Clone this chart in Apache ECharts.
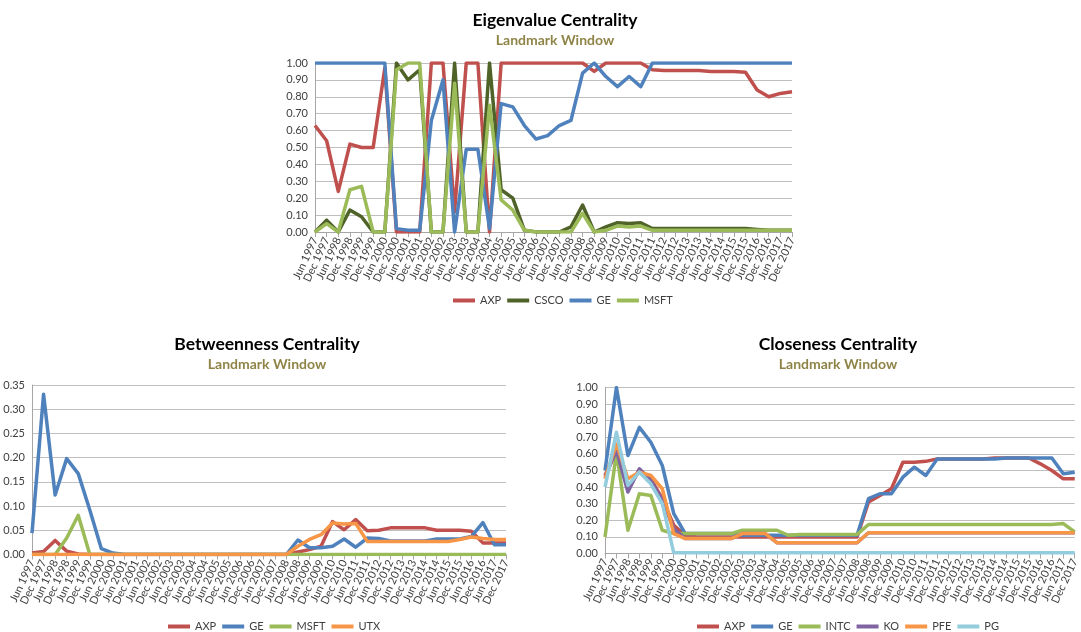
<!DOCTYPE html>
<html>
<head>
<meta charset="utf-8">
<script src="https://cdn.jsdelivr.net/npm/echarts@6/dist/echarts.min.js"></script>
<style>
  html, body { margin: 0; padding: 0; background: #ffffff; }
  #chart { width: 1081px; height: 632px; }
</style>
</head>
<body>
<div id="chart"></div>
<script>
// Half-year observation dates, Jun 1997 .. Dec 2017
const periods = [
  'Jun 1997','Dec 1997','Jun 1998','Dec 1998','Jun 1999','Dec 1999','Jun 2000','Dec 2000',
  'Jun 2001','Dec 2001','Jun 2002','Dec 2002','Jun 2003','Dec 2003','Jun 2004','Dec 2004',
  'Jun 2005','Dec 2005','Jun 2006','Dec 2006','Jun 2007','Dec 2007','Jun 2008','Dec 2008',
  'Jun 2009','Dec 2009','Jun 2010','Dec 2010','Jun 2011','Dec 2011','Jun 2012','Dec 2012',
  'Jun 2013','Dec 2013','Jun 2014','Dec 2014','Jun 2015','Dec 2015','Jun 2016','Dec 2016',
  'Jun 2017','Dec 2017'
];

// Eigenvalue centrality
const eigAXP  = [0.63,0.54,0.24,0.52,0.50,0.50,0.97,0.00,0.00,0.00,1.00,1.00,0.12,1.00,1.00,0.00,
                 1.00,1.00,1.00,1.00,1.00,1.00,1.00,1.00,0.95,1.00,1.00,1.00,1.00,0.96,0.955,0.955,
                 0.955,0.955,0.95,0.95,0.95,0.945,0.84,0.80,0.82,0.83];
const eigCSCO = [0.00,0.07,0.00,0.13,0.09,0.00,0.00,1.00,0.90,0.96,0.00,0.00,1.00,0.00,0.00,1.00,
                 0.25,0.20,0.01,0.00,0.00,0.00,0.03,0.16,0.00,0.03,0.055,0.05,0.055,0.02,0.02,0.02,
                 0.02,0.02,0.02,0.02,0.02,0.02,0.015,0.01,0.01,0.01];
const eigGE   = [1.00,1.00,1.00,1.00,1.00,1.00,1.00,0.02,0.01,0.01,0.66,0.90,0.00,0.49,0.49,0.02,
                 0.76,0.74,0.63,0.55,0.57,0.63,0.66,0.94,1.00,0.92,0.86,0.92,0.86,1.00,1.00,1.00,
                 1.00,1.00,1.00,1.00,1.00,1.00,1.00,1.00,1.00,1.00];
const eigMSFT = [0.00,0.05,0.00,0.25,0.27,0.00,0.00,0.96,1.00,1.00,0.00,0.00,0.88,0.00,0.00,0.75,
                 0.19,0.13,0.01,0.00,0.00,0.00,0.00,0.11,0.00,0.01,0.035,0.03,0.035,0.01,0.01,0.01,
                 0.01,0.01,0.01,0.01,0.01,0.01,0.01,0.01,0.01,0.01];

// Betweenness centrality
const btAXP  = [0.003,0.006,0.029,0.007,0.001,0,0,0,0,0,0,0,0,0,0,0,0,0,0,0,0,0,0,
                0.005,0.010,0.017,0.068,0.051,0.072,0.049,0.050,0.055,0.055,0.055,0.055,0.050,0.050,0.050,
                0.048,0.024,0.024,0.024];
const btGE   = [0.044,0.331,0.123,0.198,0.167,0.092,0.012,0.003,0,0,0,0,0,0,0,0,0,0,0,0,0,0,0,
                0.030,0.014,0.014,0.017,0.032,0.015,0.034,0.033,0.028,0.028,0.028,0.028,0.032,0.032,0.032,
                0.037,0.066,0.020,0.020];
const btMSFT = [0,0,0,0.034,0.081,0,0,0,0,0,0,0,0,0,0,0,0,0,0,0,0,0,0,
                0,0,0,0,0,0,0,0,0,0,0,0,0,0,0,0,0,0,0];
const btUTX  = [0,0,0,0,0,0,0,0,0,0,0,0,0,0,0,0,0,0,0,0,0,0,0,
                0.017,0.031,0.041,0.065,0.063,0.064,0.027,0.027,0.027,0.027,0.027,0.027,0.027,0.027,0.031,
                0.036,0.033,0.031,0.031];

// Closeness centrality
const clAXP  = [0.47,0.63,0.39,0.50,0.45,0.33,0.17,0.11,0.10,0.10,0.10,0.10,0.10,0.10,0.10,0.10,
                0.10,0.10,0.10,0.10,0.10,0.10,0.10,0.31,0.35,0.39,0.55,0.55,0.555,0.57,0.57,0.57,
                0.57,0.57,0.575,0.575,0.575,0.575,0.54,0.50,0.45,0.45];
const clGE   = [0.50,1.00,0.59,0.76,0.67,0.53,0.24,0.12,0.12,0.12,0.12,0.12,0.11,0.11,0.11,0.11,
                0.11,0.11,0.11,0.11,0.11,0.11,0.11,0.33,0.36,0.36,0.46,0.52,0.47,0.57,0.57,0.57,
                0.57,0.57,0.57,0.575,0.575,0.575,0.575,0.575,0.48,0.49];
const clINTC = [0.10,0.61,0.14,0.36,0.35,0.14,0.12,0.12,0.12,0.12,0.12,0.12,0.14,0.14,0.14,0.14,
                0.11,0.115,0.115,0.115,0.115,0.115,0.115,0.175,0.175,0.175,0.175,0.175,0.175,0.175,0.175,0.175,
                0.175,0.175,0.175,0.175,0.175,0.175,0.175,0.175,0.18,0.13];
const clKO   = [0.46,0.62,0.37,0.51,0.44,0.32,0.15,0.09,0.09,0.09,0.09,0.09,0.12,0.12,0.12,0.065,
                0.065,0.065,0.065,0.065,0.065,0.065,0.065,0.125,0.125,0.125,0.125,0.125,0.125,0.125,0.125,0.125,
                0.125,0.125,0.125,0.125,0.125,0.125,0.125,0.125,0.125,0.125];
const clPFE  = [0.45,0.66,0.45,0.49,0.47,0.39,0.12,0.09,0.09,0.09,0.09,0.09,0.12,0.12,0.12,0.065,
                0.065,0.065,0.065,0.065,0.065,0.065,0.065,0.125,0.125,0.125,0.125,0.125,0.125,0.125,0.125,0.125,
                0.125,0.125,0.125,0.125,0.125,0.125,0.125,0.125,0.125,0.125];
const clPG   = [0.40,0.73,0.41,0.49,0.42,0.30,0.005,0.005,0.005,0.005,0.005,0.005,0.005,0.005,0.005,0.005,
                0.005,0.005,0.005,0.005,0.005,0.005,0.005,0.005,0.005,0.005,0.005,0.005,0.005,0.005,0.005,0.005,
                0.005,0.005,0.005,0.005,0.005,0.005,0.005,0.005,0.005,0.005];

const colors = {
  AXP: '#C0504D', CSCO: '#4F6228', GE: '#4F81BD', MSFT: '#9BBB59', UTX: '#F79646',
  INTC: '#9BBB59', KO: '#8064A2', PFE: '#F79646', PG: '#93CDDD'
};

const FONT = 'Lato, "Open Sans", sans-serif';
const labelColor = '#404040';

function xAxisFor(gridIndex) {
  return {
    type: 'category', gridIndex, data: periods, boundaryGap: false,
    axisLine: { lineStyle: { color: '#A6A6A6', width: 1 } },
    axisTick: { show: true, interval: 0, length: 5, lineStyle: { color: '#A6A6A6' } },
    axisLabel: { interval: 0, rotate: 65, fontSize: 11, color: labelColor, fontFamily: FONT, margin: 6 },
    splitLine: { show: false }
  };
}
function yAxisFor(gridIndex, max, step) {
  return {
    type: 'value', gridIndex, min: 0, max, interval: step,
    axisLine: { show: true, lineStyle: { color: '#A6A6A6', width: 1 } },
    axisTick: { show: false },
    axisLabel: { fontSize: 11, color: labelColor, fontFamily: FONT, margin: 7,
                 formatter: v => v.toFixed(2) },
    splitLine: { lineStyle: { color: '#BFBFBF', width: 1 } }
  };
}
function line(name, data, idx) {
  return {
    type: 'line', name, data, xAxisIndex: idx, yAxisIndex: idx,
    symbol: 'none', smooth: false,
    lineStyle: { color: colors[name], width: 3.5, join: 'round' },
    itemStyle: { color: colors[name] }
  };
}
function titleFor(text, cx, top) {
  return {
    text, subtext: 'Landmark Window', left: cx, top, textAlign: 'center', itemGap: 4,
    textStyle: { fontFamily: FONT, fontSize: 17.5, fontWeight: 'bold', color: '#000000' },
    subtextStyle: { fontFamily: FONT, fontSize: 14, fontWeight: 'bold', color: '#8F8447' }
  };
}
function legendFor(names, left, top) {
  return {
    data: names, left, top, icon: 'rect', itemWidth: 22, itemHeight: 4, itemGap: 6,
    textStyle: { fontFamily: FONT, fontSize: 11, color: labelColor },
    selectedMode: false
  };
}

const chart = echarts.init(document.getElementById('chart'), null, { renderer: 'canvas' });
chart.setOption({
  animation: false,
  backgroundColor: '#ffffff',
  title: [
    titleFor('Eigenvalue Centrality', 550, 6),
    titleFor('Betweenness Centrality', 262, 330),
    titleFor('Closeness Centrality', 833, 330)
  ],
  legend: [
    legendFor(['AXP', 'CSCO', 'GE', 'MSFT'], 448, 290),
    legendFor(['AXP', 'GE', 'MSFT', 'UTX'], 163, 616),
    legendFor(['AXP', 'GE', 'INTC', 'KO', 'PFE', 'PG'], 692, 616)
  ],
  grid: [
    { left: 315, top: 63, width: 477, height: 169 },
    { left: 32, top: 385, width: 474, height: 169.5 },
    { left: 605, top: 387.5, width: 475, height: 166 }
  ],
  xAxis: [xAxisFor(0), xAxisFor(1), xAxisFor(2)],
  yAxis: [yAxisFor(0, 1, 0.1), yAxisFor(1, 0.35, 0.05), yAxisFor(2, 1, 0.1)],
  series: [
    line('AXP', eigAXP, 0), line('CSCO', eigCSCO, 0), line('GE', eigGE, 0), line('MSFT', eigMSFT, 0),
    line('AXP', btAXP, 1), line('GE', btGE, 1), line('MSFT', btMSFT, 1), line('UTX', btUTX, 1),
    line('AXP', clAXP, 2), line('GE', clGE, 2), line('INTC', clINTC, 2), line('KO', clKO, 2),
    line('PFE', clPFE, 2), line('PG', clPG, 2)
  ]
});
</script>
</body>
</html>
